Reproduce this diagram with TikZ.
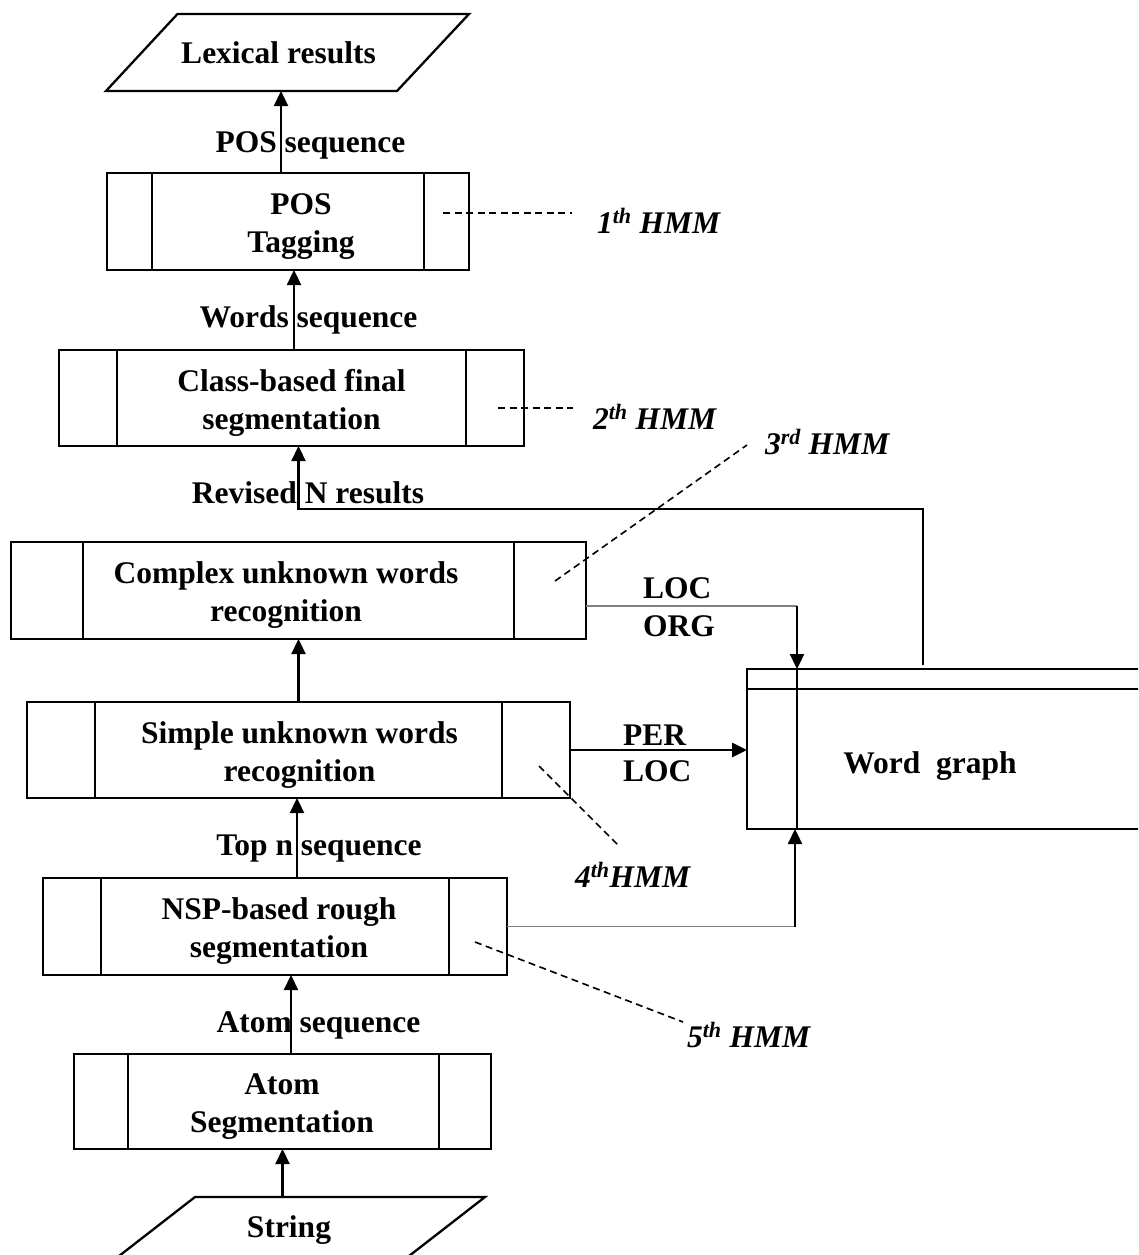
\documentclass[tikz,border=0pt]{standalone}
\usepackage{fontspec}
\setmainfont{Liberation Serif}
\usetikzlibrary{arrows.meta}
\definecolor{linkgray}{RGB}{128,128,128}
\begin{document}
\begin{tikzpicture}[x=1pt, y=-1pt,
  lbl/.style={font=\fontsize{31.5}{38}\selectfont\bfseries, align=center, inner sep=0pt, outer sep=0pt},
  hmm/.style={font=\fontsize{31.5}{38}\selectfont\bfseries\itshape, inner sep=0pt, outer sep=0pt, anchor=base west},
  boxline/.style={draw, line width=2.3pt, inner sep=0pt, outer sep=0pt},
  proc/.style 2 args={boxline, path picture={
      \draw[line width=1.8pt] ([xshift=#1]path picture bounding box.north west) -- ([xshift=#1]path picture bounding box.south west);
      \draw[line width=1.8pt] ([xshift=-#2]path picture bounding box.north east) -- ([xshift=-#2]path picture bounding box.south east);}},
  arr/.style={line width=2.3pt, -{Triangle[length=15pt, width=14pt]}},
  graylink/.style={line width=1.8pt, draw=linkgray},
  hmmline/.style={line width=1.6pt, dash pattern=on 7pt off 4.5pt},
]
\useasboundingbox (0,0) rectangle (1138,1255);
\clip (0,0) rectangle (1138,1255);
\fill[white] (0,0) rectangle (1138,1255);

% input and output parallelograms
\node[lbl, minimum width=291pt, minimum height=77pt] (lex) at (278.5,52.5) {Lexical results};
\draw[boxline] ([xshift=-27pt]lex.south west) -- ([xshift=44.5pt]lex.north west)
  -- ([xshift=45pt]lex.north east) -- ([xshift=-27pt]lex.south east) -- cycle;
\node[lbl, minimum width=290pt, minimum height=66pt] (str) at (289,1230) {String};
\draw[boxline] ([xshift=-34pt]str.south west) -- ([xshift=51pt]str.north west)
  -- ([xshift=51pt]str.north east) -- ([xshift=-34pt]str.south east) -- cycle;

% processing stages
\node[proc={45pt}{45pt}, minimum width=362pt, minimum height=97pt] (pos) at (288,221.5) {};
\node[lbl] (postxt) at (301,227) {POS\\Tagging};
\node[proc={58pt}{58pt}, minimum width=465pt, minimum height=96pt] (cls) at (291.5,398) {};
\node[lbl] (clstxt) at (291.5,403) {Class-based final\\segmentation};
\node[proc={72pt}{72pt}, minimum width=575pt, minimum height=97pt] (cplx) at (298.5,590.5) {};
\node[lbl] (cplxtxt) at (286,595.5) {Complex unknown words\\recognition};
\node[proc={68pt}{68pt}, minimum width=543pt, minimum height=96pt] (smp) at (298.5,750) {};
\node[lbl] (smptxt) at (299.5,755) {Simple unknown words\\recognition};
\node[proc={58pt}{58pt}, minimum width=464pt, minimum height=97pt] (nsp) at (275,926.5) {};
\node[lbl] (nsptxt) at (279,931.5) {NSP-based rough\\segmentation};
\node[proc={54pt}{52pt}, minimum width=417pt, minimum height=95pt] (atom) at (282.5,1101.5) {};
\node[lbl] (atomtxt) at (282,1107) {Atom\\Segmentation};

% word graph
\node[boxline, minimum width=423pt, minimum height=160pt, path picture={
    \draw[line width=2.3pt] ([yshift=-20pt]path picture bounding box.north west) -- ([yshift=-20pt]path picture bounding box.north east);
    \draw[line width=1.6pt] ([xshift=50pt]path picture bounding box.north west) -- ([xshift=50pt]path picture bounding box.south west);}]
  (wg) at (958.5,749) {};
\node[lbl] (wgtxt) at (930,766) {Word\ \ graph};

% connector labels
\node[lbl] (seq1) at (310.5,145) {POS sequence};
\node[lbl] (seq2) at (308.5,320) {Words sequence};
\node[lbl] (seq3) at (308,492.5) {Revised N results};
\node[lbl] (seq4) at (319,849) {Top n sequence};
\node[lbl] (seq5) at (318.5,1025) {Atom sequence};
\node[lbl, align=left, anchor=west] (locorg) at (643,607) {LOC\\ORG};
\node[lbl, align=left, anchor=west, font=\fontsize{31.5}{36}\selectfont\bfseries] (perloc) at (623,753) {PER\\LOC};

% model labels
\node[hmm] (h1) at (597,233) {1\textsuperscript{th} HMM};
\node[hmm] (h2) at (593,429) {2\textsuperscript{th} HMM};
\node[hmm] (h3) at (765,454) {3\textsuperscript{rd} HMM};
\node[hmm] (h4) at (575,887) {4\textsuperscript{th}HMM};
\node[hmm] (h5) at (687,1047) {5\textsuperscript{th} HMM};

% dashed leaders to the model labels
\coordinate (d1s) at (443,213);  \coordinate (d1e) at (572,213);
\coordinate (d2s) at (498,408);  \coordinate (d2e) at (573,408);
\coordinate (d3s) at (555,581);  \coordinate (d3e) at (747,445);
\coordinate (d4s) at (539,766);  \coordinate (d4e) at (619,846);
\coordinate (d5s) at (475,942);  \coordinate (d5e) at (683,1022);
\draw[hmmline] (d1s) -- (d1e);
\draw[hmmline] (d2s) -- (d2e);
\draw[hmmline] (d3s) -- (d3e);
\draw[hmmline] (d4s) -- (d4e);
\draw[hmmline] (d5s) -- (d5e);

% main flow
\draw[arr] (str.north -| atom.south) -- (atom.south);
\draw[arr] ([xshift=8.5pt]atom.north) -- ([xshift=8.5pt]atom.north |- nsp.south);
\draw[arr] ([xshift=22pt]nsp.north) -- ([xshift=22pt]nsp.north |- smp.south);
\draw[arr] (smp.north) -- (smp.north |- cplx.south);
\draw[arr] ([xshift=2.5pt]cls.north) -- ([xshift=2.5pt]cls.north |- pos.south);
\draw[arr] ([xshift=-7pt]pos.north) -- ([xshift=-7pt]pos.north |- lex.south);

% word graph feedback
\coordinate (fbr) at (923,509);
\coordinate (fbl) at (298.5,509);
\draw[arr, shorten <=4pt] (wg.north -| fbr) -- (fbr) -- (fbl) -- (fbl |- cls.south);

% candidates into the word graph
\coordinate (lo) at (797,606);
\draw[graylink] (lo -| cplx.east) -- (lo);
\draw[arr] (lo) -- (lo |- wg.north);
\draw[arr, line width=2.6pt] (smp.east) -- (smp.east -| wg.west);
\coordinate (nw) at (795,926.5);
\draw[graylink] (nsp.east) -- (nw);
\draw[arr] (nw) -- (nw |- wg.south);
\end{tikzpicture}
\end{document}
